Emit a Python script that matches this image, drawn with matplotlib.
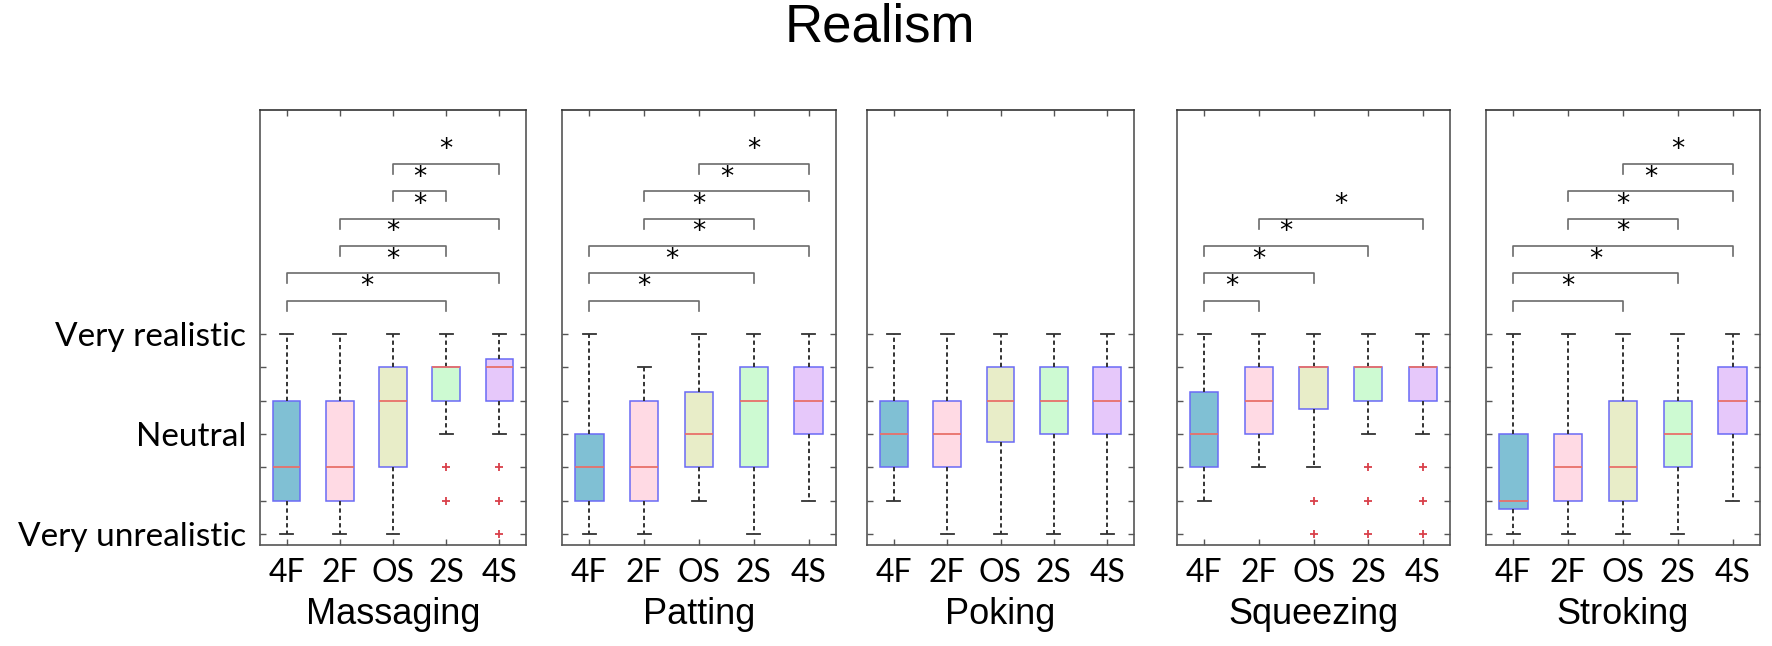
import numpy as np
import matplotlib
matplotlib.use('Agg')
import matplotlib.pyplot as plt

# conditions and gestures
labels = ['4F', '2F', 'OS', '2S', '4S']
gestures = ['Massaging', 'Patting', 'Poking', 'Squeezing', 'Stroking']

# box statistics (1 = very unrealistic, 7 = very realistic)
massaging_q1 = [2, 2, 3, 5, 5]
massaging_med = [3, 3, 5, 6, 6]
massaging_q3 = [5, 5, 6, 6, 6.25]
massaging_lo = [1, 1, 1, 4, 4]
massaging_hi = [7, 7, 7, 7, 7]
massaging_fliers = [[], [], [], [3, 2], [3, 2, 1]]
massaging_sig = [(1, 4), (1, 5), (2, 4), (2, 5), (3, 4), (3, 5)]

patting_q1 = [2, 2, 3, 3, 4]
patting_med = [3, 3, 4, 5, 5]
patting_q3 = [4, 5, 5.25, 6, 6]
patting_lo = [1, 1, 2, 1, 2]
patting_hi = [7, 6, 7, 7, 7]
patting_fliers = [[], [], [], [], []]
patting_sig = [(1, 3), (1, 4), (1, 5), (2, 4), (2, 5), (3, 5)]

poking_q1 = [3, 3, 3.75, 4, 4]
poking_med = [4, 4, 5, 5, 5]
poking_q3 = [5, 5, 6, 6, 6]
poking_lo = [2, 1, 1, 1, 1]
poking_hi = [7, 7, 7, 7, 7]
poking_fliers = [[], [], [], [], []]
poking_sig = []

squeezing_q1 = [3, 4, 4.75, 5, 5]
squeezing_med = [4, 5, 6, 6, 6]
squeezing_q3 = [5.25, 6, 6, 6, 6]
squeezing_lo = [2, 3, 3, 4, 4]
squeezing_hi = [7, 7, 7, 7, 7]
squeezing_fliers = [[], [], [2, 1], [3, 2, 1], [3, 2, 1]]
squeezing_sig = [(1, 2), (1, 3), (1, 4), (2, 5)]

stroking_q1 = [1.75, 2, 2, 3, 4]
stroking_med = [2, 3, 3, 4, 5]
stroking_q3 = [4, 4, 5, 5, 6]
stroking_lo = [1, 1, 1, 1, 2]
stroking_hi = [7, 7, 7, 7, 7]
stroking_fliers = [[], [], [], [], []]
stroking_sig = [(1, 3), (1, 4), (1, 5), (2, 4), (2, 5), (3, 5)]

panels = [
    (massaging_q1, massaging_med, massaging_q3, massaging_lo, massaging_hi, massaging_fliers, massaging_sig),
    (patting_q1, patting_med, patting_q3, patting_lo, patting_hi, patting_fliers, patting_sig),
    (poking_q1, poking_med, poking_q3, poking_lo, poking_hi, poking_fliers, poking_sig),
    (squeezing_q1, squeezing_med, squeezing_q3, squeezing_lo, squeezing_hi, squeezing_fliers, squeezing_sig),
    (stroking_q1, stroking_med, stroking_q3, stroking_lo, stroking_hi, stroking_fliers, stroking_sig),
]

box_colors = ['#80C0D4', '#FFDAE4', '#E8EDC8', '#CDFAD2', '#E6C8FA']

W, H = 1772, 646
fig = plt.figure(figsize=(W / 100, H / 100), dpi=100)

# pixel extents of each panel (left, right)
extents = [(260, 526), (562, 836), (867, 1134), (1177, 1450), (1486, 1760)]
top_px, bot_px = 110, 545

fig.text(880 / W, 1 - 28 / H, 'Realism', ha='center', va='center',
         fontsize=38, family='Liberation Sans')

for i, (q1, med, q3, lo, hi, fl, sig) in enumerate(panels):
    l, r = extents[i]
    ax = fig.add_axes([l / W, 1 - bot_px / H, (r - l) / W, (bot_px - top_px) / H])

    stats = []
    for j in range(5):
        stats.append({'q1': q1[j], 'med': med[j], 'q3': q3[j],
                      'whislo': lo[j], 'whishi': hi[j], 'fliers': fl[j]})
    bp = ax.bxp(stats, positions=np.arange(1, 6), widths=0.52, patch_artist=True,
                capwidths=0.24,
                boxprops=dict(edgecolor='#6a6af5', linewidth=1.1),
                medianprops=dict(color='#e8706a', linewidth=1.3),
                whiskerprops=dict(color='#333333', linestyle=(0, (2.2, 1.6)), linewidth=1.4),
                capprops=dict(color='#333333', linewidth=1.3),
                flierprops=dict(marker='+', markeredgecolor='#d9404a', markersize=6,
                                markeredgewidth=1.3, linestyle='none'))
    for patch, c in zip(bp['boxes'], box_colors):
        patch.set_facecolor(c)

    # significance brackets
    for k, (a, b) in enumerate(sig):
        y = 8.0 + 0.82 * k
        ax.plot([a, a, b, b], [y - 0.3, y, y, y - 0.3], color='#6b6b6b', lw=1.2)
        ax.text((a + b) / 2, y + 0.02, '*', ha='center', va='bottom',
                fontsize=19, color='black')

    ax.set_xlim(0.5, 5.5)
    ax.set_ylim(0.67, 13.72)
    ax.set_xticks(np.arange(1, 6))
    ax.set_xticklabels(labels, family='Lato', fontsize=23)
    ax.set_yticks(np.arange(1, 8))
    if i == 0:
        ax.set_yticklabels(['Very unrealistic', '', '', 'Neutral', '', '', 'Very realistic'],
                           family='Lato', fontsize=24)
    else:
        ax.set_yticklabels([])
    ax.tick_params(direction='in', top=True, right=True, length=4, width=1,
                   color='#555555', pad=9)
    ax.tick_params(axis='y', pad=10)
    for s in ax.spines.values():
        s.set_color('#555555')
        s.set_linewidth(1.2)
    ax.spines['top'].set_color('#333333')
    ax.set_xlabel(gestures[i], family='Liberation Sans', fontsize=26, labelpad=7)

fig.savefig('out.png', dpi=100)
